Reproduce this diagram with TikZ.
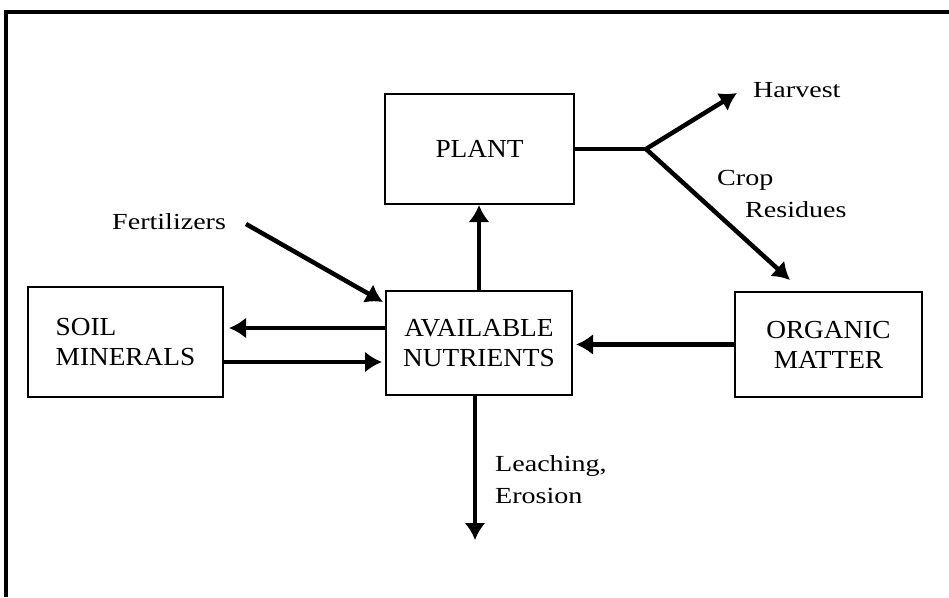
\documentclass[tikz,border=0pt]{standalone}
\usepackage{fontspec}
\setmainfont{Liberation Serif}[FakeStretch=1.05]
\newfontfamily\lblfont{Liberation Serif}[FakeStretch=1.22]
\usetikzlibrary{arrows.meta}
\begin{document}
\begin{tikzpicture}[x=1pt,y=-1pt,
  box/.style={draw, line width=2pt, inner sep=0pt, font=\fontsize{26}{30}\selectfont},
  lbl/.style={inner sep=0pt, font=\lblfont\fontsize{23}{27}\selectfont},
  ln/.style={line width=4.5pt},
  arr/.style={line width=4.5pt, -{Latex[length=17pt,width=21pt]}},
  frame/.style={line width=4pt}]
\useasboundingbox (0,0) rectangle (949,597);
\draw[frame] (6,597) -- (6,12) -- (949,12);

\node[box, minimum width=189pt, minimum height=110pt] (plant) at (479.5,149) {PLANT};
\node[box, minimum width=186pt, minimum height=104pt, align=center] (avail) at (479,343) {AVAILABLE\\NUTRIENTS};
\node[box, minimum width=195pt, minimum height=110pt, align=left] (soil) at (125.5,342) {SOIL\\MINERALS};
\node[box, minimum width=187pt, minimum height=105pt, align=center] (org) at (828.5,344.5) {ORGANIC\\MATTER};

\node[lbl, anchor=base west] (harvest) at (753,97) {Harvest};
\node[lbl, anchor=base west] (crop) at (717,185) {Crop};
\node[lbl, anchor=base west] (resid) at (745,217) {Residues};
\node[lbl, anchor=base west] (fert) at (112,229) {Fertilizers};
\node[lbl, anchor=base west] (leach) at (495,471) {Leaching,};
\node[lbl, anchor=base west] (eros) at (495,503) {Erosion};

\coordinate (j) at (646,149);
\coordinate (hvtip) at (737,93);
\coordinate (crtip) at (790,280);
\coordinate (fstart) at (246,224);
\coordinate (ftip) at (383,302);
\coordinate (ltip) at (475,540);

\draw[ln] (plant.east) -- (j);
\draw[arr] (j) -- (hvtip);
\draw[arr] (j) -- (crtip);
\draw[arr] (fstart) -- (ftip);
\draw[arr] (avail.north) -- (avail.north |- plant.south);
\draw[arr, shorten >=5pt] ([yshift=15pt]avail.west) -- ([yshift=15pt]avail.west -| soil.east);
\draw[arr, shorten >=3pt] ([yshift=-19pt]avail.west -| soil.east) -- ([yshift=-19pt]avail.west);
\draw[arr, shorten >=3pt] (org.west) -- (org.west -| avail.east);
\draw[arr] (avail.south -| ltip) -- (ltip);
\end{tikzpicture}
\end{document}
